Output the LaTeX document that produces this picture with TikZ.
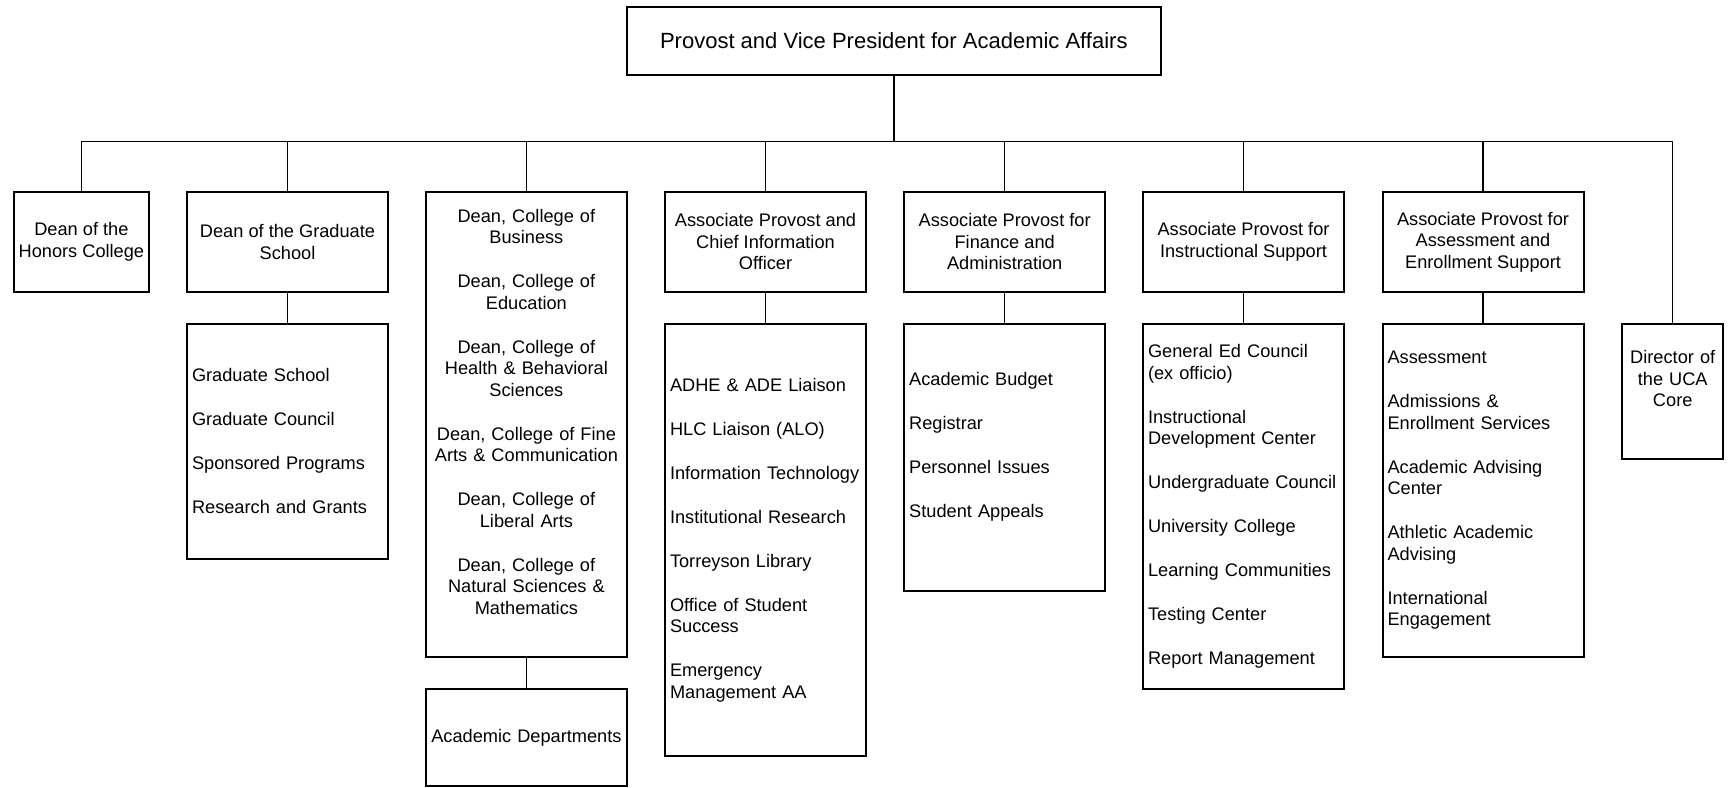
\documentclass[tikz,border=0pt]{standalone}
\usepackage{fontspec}
\setmainfont{Liberation Sans}
\usepackage{tikz}
\usetikzlibrary{positioning,calc}

\newcommand{\orgfont}{\fontsize{9.1}{10.75}\selectfont}
\newcommand{\provostfont}{\fontsize{11}{13}\selectfont}
\newcommand{\orggap}{11.25pt}

\tikzset{
  orgbox/.style={rectangle, draw=black, line width=1pt, inner sep=2.5pt, font=\orgfont},
  headbox/.style={orgbox, align=center, minimum width=100.5pt, minimum height=50.15pt},
  listbox/.style={orgbox, align=left, text width=95.5pt},
  link/.style={draw=black, line width=0.75pt}
}

\begin{document}
\begin{tikzpicture}[x=0.5pt,y=-0.5pt]
    \useasboundingbox (0,0) rectangle (1728,787);

    % Provost
    \node[headbox, minimum width=266.8pt, minimum height=34.2pt, font=\provostfont] (provost) at (893.8,40.9) {Provost and Vice President for Academic Affairs};
    \coordinate (bus) at (893.8,141.7);

    % Deans and associate provosts
    \node[headbox, minimum width=67.2pt, anchor=north] (honors) at (81.4,190.7) {Dean of the\\Honors College};
    \node[headbox, anchor=north] (gradDean) at (287.5,190.7) {Dean of the Graduate\\School};
    \node[listbox, align=center, anchor=north, minimum height=232.7pt] (colleges) at (526.4,190.7) {
        Dean, College of\\Business\\[\orggap]
        Dean, College of\\Education\\[\orggap]
        Dean, College of\\Health \& Behavioral\\Sciences\\[\orggap]
        Dean, College of Fine\\Arts \& Communication\\[\orggap]
        Dean, College of\\Liberal Arts\\[\orggap]
        Dean, College of\\Natural Sciences \&\\Mathematics\\[2pt]\mbox{}
    };
    \node[headbox, anchor=north] (cio) at (765.5,190.7) {Associate Provost and\\Chief Information\\Officer};
    \node[headbox, anchor=north] (finance) at (1004.7,190.7) {Associate Provost for\\Finance and\\Administration};
    \node[headbox, anchor=north] (instr) at (1243.5,190.7) {Associate Provost for\\Instructional Support};
    \node[headbox, anchor=north] (assess) at (1483,190.7) {Associate Provost for\\Assessment and\\Enrollment Support};

    % Units below
    \node[listbox, anchor=north, minimum height=117.5pt] (gradList) at (287.5,322.7) {
        Graduate School\\[\orggap]
        Graduate Council\\[\orggap]
        Sponsored Programs\\[\orggap]
        Research and Grants
    };
    \node[listbox, align=center, anchor=north, minimum height=48.5pt] (depts) at (526.4,688.3) {Academic Departments};
    \node[listbox, anchor=north, minimum height=216.2pt] (cioList) at (765.5,322.7) {
        ADHE \& ADE Liaison\\[\orggap]
        HLC Liaison (ALO)\\[\orggap]
        Information Technology\\[\orggap]
        Institutional Research\\[\orggap]
        Torreyson Library\\[\orggap]
        Office of Student\\Success\\[\orggap]
        Emergency\\Management AA
    };
    \node[listbox, anchor=north, minimum height=133.7pt] (finList) at (1004.7,322.7) {
        Academic Budget\\[\orggap]
        Registrar\\[\orggap]
        Personnel Issues\\[\orggap]
        Student Appeals\\[2pt]\mbox{}
    };
    \node[listbox, anchor=north, minimum height=182.8pt] (instrList) at (1243.5,322.7) {
        General Ed Council\\(ex officio)\\[\orggap]
        Instructional\\Development Center\\[\orggap]
        Undergraduate Council\\[\orggap]
        University College\\[\orggap]
        Learning Communities\\[\orggap]
        Testing Center\\[\orggap]
        Report Management
    };
    \node[listbox, anchor=north, minimum height=166.7pt] (assessList) at (1483,322.7) {
        Assessment\\[\orggap]
        Admissions \&\\Enrollment Services\\[\orggap]
        Academic Advising\\Center\\[\orggap]
        Athletic Academic\\Advising\\[\orggap]
        International\\Engagement
    };
    \node[orgbox, align=center, text width=45.3pt, anchor=north, minimum height=67.5pt] (director) at (1672.7,322.7) {Director of\\the UCA\\Core\\[2pt]\mbox{}};

    % Lines
    \draw[link] (provost.south) -- (bus);
    \draw[link] (honors.north) |- (bus) -| (director.north);
    \draw[link] (gradDean.north) -- (gradDean.north |- bus);
    \draw[link] (colleges.north) -- (colleges.north |- bus);
    \draw[link] (cio.north) -- (cio.north |- bus);
    \draw[link] (finance.north) -- (finance.north |- bus);
    \draw[link] (instr.north) -- (instr.north |- bus);
    \draw[link] (assess.north) -- (assess.north |- bus);
    \draw[link] (gradDean.south) -- (gradList.north);
    \draw[link] (colleges.south) -- (depts.north);
    \draw[link] (cio.south) -- (cioList.north);
    \draw[link] (finance.south) -- (finList.north);
    \draw[link] (instr.south) -- (instrList.north);
    \draw[link] (assess.south) -- (assessList.north);
\end{tikzpicture}
\end{document}
